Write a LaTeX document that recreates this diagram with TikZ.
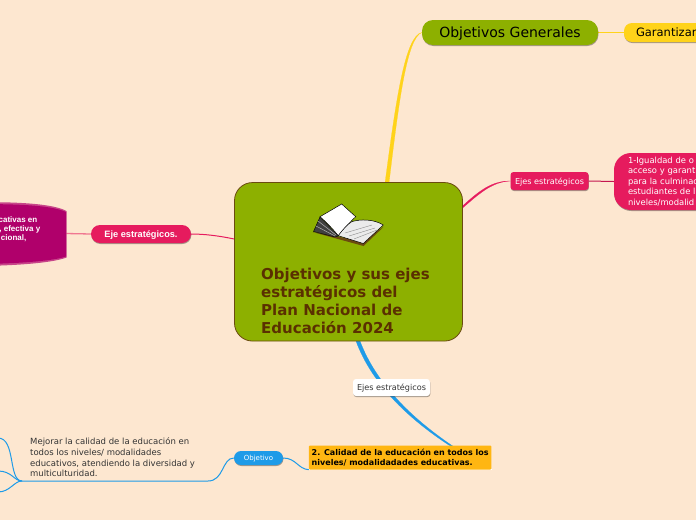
\documentclass[tikz,border=0pt]{standalone}
\usepackage{fontspec}
\setmainfont{DejaVu Sans}
\newfontfamily\arialfont{Liberation Sans}
\usetikzlibrary{shadows,backgrounds}
\definecolor{paper}{HTML}{FDE7D0}
\definecolor{olive}{HTML}{8DB000}
\definecolor{rim}{HTML}{6B4A10}
\definecolor{title}{HTML}{5A3000}
\definecolor{sun}{HTML}{FFD31A}
\definecolor{rose}{HTML}{E61B5E}
\definecolor{plum}{HTML}{B0006B}
\definecolor{sky}{HTML}{1E9BE8}
\definecolor{amber}{HTML}{FFB612}
\tikzset{
    shade/.style={drop shadow={shadow xshift=0.4pt, shadow yshift=-1pt, opacity=0.35, fill=black}},
    topic/.style={inner sep=0pt, minimum width=#1, text depth=0pt, shade},
    link/.style={line width=1pt},
    taper/.style={line width=0.2pt},
}

\begin{document}
\begin{tikzpicture}[x=1pt, y=-1pt]
    \useasboundingbox (0, 0) rectangle (696, 520);

    \coordinate (yellowa) at (385, 183);
    \coordinate (yellowb) at (389, 183);
    \coordinate (rosea) at (462, 206.5);
    \coordinate (roseb) at (462, 208.5);
    \coordinate (bluea) at (356, 341);
    \coordinate (blueb) at (360, 341);
    \coordinate (leftup) at (-2, 438);
    \coordinate (leftmid) at (-2, 471);
    \coordinate (leftlow) at (-2, 492);
    \coordinate (fork) at (22, 481);

    % nodes
    \node[topic=176pt, minimum height=25pt, fill=olive, rounded corners=11pt, font=\fontsize{14}{17}\selectfont] (general) at (510, 32.5) {Objetivos Generales};
    \node[topic=150pt, minimum height=19pt, fill=sun, rounded corners=8pt, text width=126pt, font=\fontsize{11.5}{14}\selectfont] (garantizar) at (699, 32.5) {Garantizar};
    \node[topic=78pt, minimum height=18pt, fill=rose, text=white, rounded corners=3pt, font=\fontsize{8.1}{11}\selectfont] (ejesright) at (549.5, 181) {Ejes estratégicos};
    \node[inner sep=0pt, minimum width=150pt, minimum height=57pt, shade, fill=rose, text=white, rounded corners=17pt, align=left, text width=122pt, font=\fontsize{8.4}{10.6}\selectfont] (igualdad) at (689, 181.5) {1-Igualdad de o\\acceso y garant\\para la culminac\\estudiantes de l\\niveles/modalid};
    \node[topic=100pt, minimum height=18pt, fill=rose, text=white, rounded corners=9pt, font=\arialfont\bfseries\fontsize{9.2}{11}\selectfont] (ejeleft) at (141, 234) {Eje estratégicos.};
    \node[fill=white, text=black!80, rounded corners=3pt, inner sep=0pt, minimum width=77pt, minimum height=17pt, text depth=0pt, shade, font=\fontsize{8.1}{11}\selectfont] (ejesblue) at (391.5, 387.5) {Ejes estratégicos};
    \node[fill=amber, rounded corners=1pt, inner sep=0pt, minimum width=182.5pt, minimum height=24pt, align=left, font=\bfseries\fontsize{8}{9.4}\selectfont] (calidad) at (400.2, 457.5) {2. Calidad de la educación en todos los\\niveles/ modalidadades educativas.};
    \node[topic=49pt, minimum height=14pt, fill=sky, text=white, rounded corners=7pt, font=\fontsize{7}{9}\selectfont] (objetivo) at (258.5, 458) {Objetivo};
    \node[anchor=north west, inner sep=0pt, align=left, text=black!80, font=\fontsize{8.5}{10.8}\selectfont] (mejorar) at (30, 437.5) {Mejorar la calidad de la educación en\\todos los niveles/ modalidades\\educativos, atendiendo la diversidad y\\multiculturidad.};

    % main box
    \node[fill=olive, draw=rim, line width=0.8pt, rounded corners=18pt, inner sep=0pt, minimum width=228pt, minimum height=158.5pt] (main) at (348.5, 261.8) {};
    \node[anchor=north west, inner sep=0pt, align=left, text=title, font=\bfseries\fontsize{15}{18}\selectfont] (mainlabel) at (261, 268) {Objetivos y sus ejes\\estratégicos del\\Plan Nacional de\\Educación 2024};

    % open book
    \fill[rim] (312.5, 232) -- (363.5, 246) -- (384, 226.5) -- (362, 241) -- cycle;
    \filldraw[black!75, draw=black, line width=0.4pt] (320, 217) -- (313.5, 231.5) -- (335, 237) -- (338.5, 236) -- cycle;
    \draw[white!70!black, line width=0.5pt] (318, 221) -- (336, 235) (316, 226) -- (335, 236);
    \filldraw[white, draw=black, line width=0.5pt] (320, 216.7) -- (341.7, 204) -- (355.7, 216.7) .. controls (350, 222) and (344, 229) .. (338.3, 235.7) .. controls (332, 228) and (326, 222) .. cycle;
    \filldraw[black!8, draw=black, line width=0.5pt] (338.3, 235.7) .. controls (343, 229) and (348, 224) .. (351.7, 221.7) .. controls (360, 219) and (374, 219) .. (383.3, 225) -- (363.3, 243.5) -- cycle;
    \draw[black!45, line width=0.4pt] (345, 233) -- (372, 225) (349, 236) -- (375, 228) (354, 239) -- (377, 230);

    % magenta shape on the left
    \fill[plum!70!paper] (-60, 203) .. controls (0, 201) and (50, 202) .. (66.5, 211) -- (66.5, 257.5) .. controls (50, 264) and (0, 267) .. (-60, 266) -- cycle;
    \fill[plum] (-60, 205) .. controls (0, 203) and (50, 204) .. (66, 212) -- (66, 256.5) .. controls (50, 262) and (0, 265) .. (-60, 264) -- cycle;
    \node[anchor=north east, inner sep=0pt, align=right, text=white, font=\arialfont\bfseries\fontsize{8}{9.1}\selectfont] (cilindro) at (40.5, 216.5) {cativas en\rule{3pt}{0pt}\\, efectiva y\\cional,\rule{14pt}{0pt}};

    % connectors
    \begin{scope}[on background layer]
    \fill[paper] (0, 0) rectangle (696, 520);
    \draw[taper, draw=sun, fill=sun] (yellowa) .. controls (396, 100) and (405, 36) .. (general.west) .. controls (407, 38) and (399, 100) .. (yellowb) -- cycle;
    \draw[link, sun] (general.east) -- (garantizar.west);
    \draw[taper, draw=rose, fill=rose] (rosea) .. controls (480, 190) and (492, 181) .. (ejesright.west) .. controls (493, 182) and (482, 191) .. (roseb) -- cycle;
    \draw[link, rose!85!black] (ejesright.east) -- (igualdad.west);
    \draw[link, rose] (ejeleft.east) .. controls (205, 234) and (220, 236) .. (main.west |- 0, 239);
    \draw[link, rose!55!paper, line width=1.3pt] (66, 233.5) -- (ejeleft.west);
    \draw[taper, draw=sky, fill=sky] (bluea) .. controls (371, 382) and (410, 428) .. (calidad.south east) .. controls (412, 426) and (375, 381) .. (blueb) -- cycle;
    \draw[white, line width=0.8pt] (calidad.south west) -- (calidad.south east);
    \draw[link, sky] (calidad.south west) .. controls (298, 469) and (296, 458) .. (objetivo.east);
    \draw[link, sky] (objetivo.west) .. controls (222, 458) and (224, 481) .. (208, 481) -- (fork);
    \draw[link, sky] (fork) .. controls (8, 481) and (16, 438) .. (leftup);
    \draw[link, sky] (fork) .. controls (14, 481) and (12, 471) .. (leftmid);
    \draw[link, sky] (fork) .. controls (14, 481) and (10, 492) .. (leftlow);
    \end{scope}
\end{tikzpicture}
\end{document}
